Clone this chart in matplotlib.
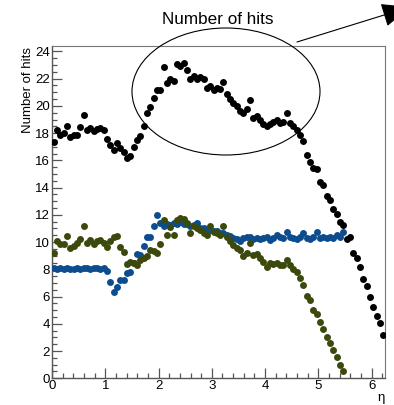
import numpy as np
import matplotlib
matplotlib.use("Agg")
import matplotlib.pyplot as plt
from matplotlib.patches import Ellipse
from matplotlib.ticker import MultipleLocator

plt.rcParams['font.family'] = ['Liberation Sans', 'DejaVu Sans']

# eta binning: 100 bins of width 0.0625 from 0 to 6.25
BIN_W = 0.0625

hits_black = [17.35, 18.2, 17.9, 18.0, 18.5, 17.75, 17.85, 17.9, 18.45, 19.35,
              18.2, 18.35, 18.15, 18.3, 18.35, 18.2, 17.6, 17.1, 16.75, 17.25,
              16.9, 16.6, 16.2, 16.35, 17.0, 17.5, 17.8, 18.55, 19.5, 19.9,
              20.6, 21.2, 21.15, 22.85, 21.7, 21.95, 21.85, 23.1, 22.9, 23.15,
              22.65, 21.95, 22.2, 21.95, 22.1, 22.0, 21.3, 21.45, 21.2, 21.3,
              21.25, 21.75, 20.85, 20.5, 20.2, 20.0, 19.6, 19.5, 19.75, 20.4,
              19.1, 19.25, 19.0, 18.7, 18.5, 18.7, 18.85, 18.95, 18.75, 18.8,
              19.45, 18.75, 18.55, 18.25, 17.9, 17.4, 16.4, 15.9, 15.45, 15.4,
              14.45, 14.2, 13.35, 13.1, 12.4, 12.1, 11.5, 11.25, 10.2, 10.4,
              9.2, 8.8, 8.2, 7.3, 6.75, 6.0, 5.25, 4.55, 4.05, 3.2]

hits_blue = [8.1, 8.05, 8.1, 8.05, 8.1, 8.05, 8.05, 8.1, 8.05, 8.1,
             8.1, 8.05, 8.1, 8.1, 8.05, 8.1, 7.9, 7.1, 6.35, 6.7,
             7.25, 7.25, 7.75, 7.8, 8.5, 9.1, 9.05, 9.7, 10.4, 10.4,
             11.15, 12.0, 11.4, 11.15, 11.3, 11.25, 11.4, 11.35, 11.5, 11.3,
             11.35, 11.15, 11.25, 11.4, 11.0, 11.0, 10.85, 10.9, 10.8, 10.8,
             10.65, 10.7, 10.55, 10.45, 10.3, 10.2, 10.1, 10.3, 10.35, 10.4,
             10.2, 10.3, 10.25, 10.3, 10.35, 10.15, 10.3, 10.55, 10.35, 10.3,
             10.75, 10.35, 10.3, 10.25, 10.4, 10.65, 10.3, 10.2, 10.35, 10.75,
             10.3, 10.35, 10.3, 10.4, 10.3, 10.5, 10.35, 10.75]

hits_green = [9.2, 10.05, 9.85, 9.85, 10.45, 9.55, 9.7, 9.9, 10.2, 11.15,
              9.95, 10.15, 9.85, 10.05, 10.15, 9.95, 9.65, 10.05, 10.35, 10.45,
              9.65, 9.25, 8.4, 8.55, 8.45, 8.3, 8.65, 8.8, 9.0, 9.4,
              9.35, 9.2, 9.85, 11.65, 10.5, 11.1, 10.5, 11.65, 11.75, 11.7,
              11.4, 10.65, 11.15, 11.05, 10.9, 10.65, 10.55, 11.15, 10.75, 10.65,
              10.55, 11.15, 10.4, 10.05, 9.8, 9.55, 9.45, 8.95, 9.2, 9.95,
              9.05, 9.1, 8.8, 8.55, 8.2, 8.45, 8.4, 8.45, 8.35, 8.3,
              8.7, 8.3, 8.0, 7.8, 7.35, 6.85, 6.05, 5.75, 5.05, 4.75,
              4.1, 3.65, 3.05, 2.6, 2.05, 1.6, 1.0, 0.5]

def centers(vals):
    return (np.arange(len(vals)) + 0.5) * BIN_W

fig = plt.figure(figsize=(3.94, 4.05), dpi=100)
ax = fig.add_axes([52 / 394, 1 - 378.3 / 405, 333 / 394, 332.3 / 405])

ms = 5.0
ax.plot(centers(hits_black), hits_black, 'o', color='black', ms=ms, mew=0, zorder=3)
ax.plot(centers(hits_blue), hits_blue, 'o', color='#0d4d8e', ms=ms, mew=0, zorder=3)
ax.plot(centers(hits_green), hits_green, 'o', color='#3b4a0c', ms=ms, mew=0, zorder=4)

ax.set_xlim(0, 6.25)
ax.set_ylim(0, 24.4)
ax.xaxis.set_major_locator(MultipleLocator(1))
ax.xaxis.set_minor_locator(MultipleLocator(0.2))
ax.yaxis.set_major_locator(MultipleLocator(2))
ax.yaxis.set_minor_locator(MultipleLocator(0.5))
ax.tick_params(which='both', direction='in', colors='#555555', labelcolor='black',
               labelsize=9.5, top=False, right=False, pad=1.5)
ax.tick_params(which='major', length=7.2, width=0.9)
ax.tick_params(which='minor', length=3.6, width=0.9)
for side in ['left', 'bottom']:
    ax.spines[side].set_color('#555555')
    ax.spines[side].set_linewidth(1.0)
for side in ['top', 'right']:
    ax.spines[side].set_color('#777777')
    ax.spines[side].set_linewidth(0.8)

fig.text(28 / 394, 1 - 47 / 405, 'Number of hits', rotation=90, ha='center', va='top',
         fontsize=9.5)
fig.text(385 / 394, 1 - 392 / 405, 'η', ha='right', va='top', fontsize=9.5)
fig.text(217.5 / 394, 1 - 24 / 405, 'Number of hits', ha='center', va='baseline',
         fontsize=12.3)

ell = Ellipse((226 / 394, 1 - 91.5 / 405), 188 / 394, 127 / 405,
              transform=fig.transFigure, fill=False, edgecolor='black', linewidth=0.8)
fig.add_artist(ell)

ax.annotate('', xy=(410, 405 - 7), xycoords='figure pixels',
            xytext=(297, 405 - 42), textcoords='figure pixels',
            arrowprops=dict(arrowstyle='-|>,head_length=1.8,head_width=0.76',
                            color='black', lw=0.8, shrinkA=0, shrinkB=0),
            annotation_clip=False)

fig.savefig('out.png', dpi=100)
